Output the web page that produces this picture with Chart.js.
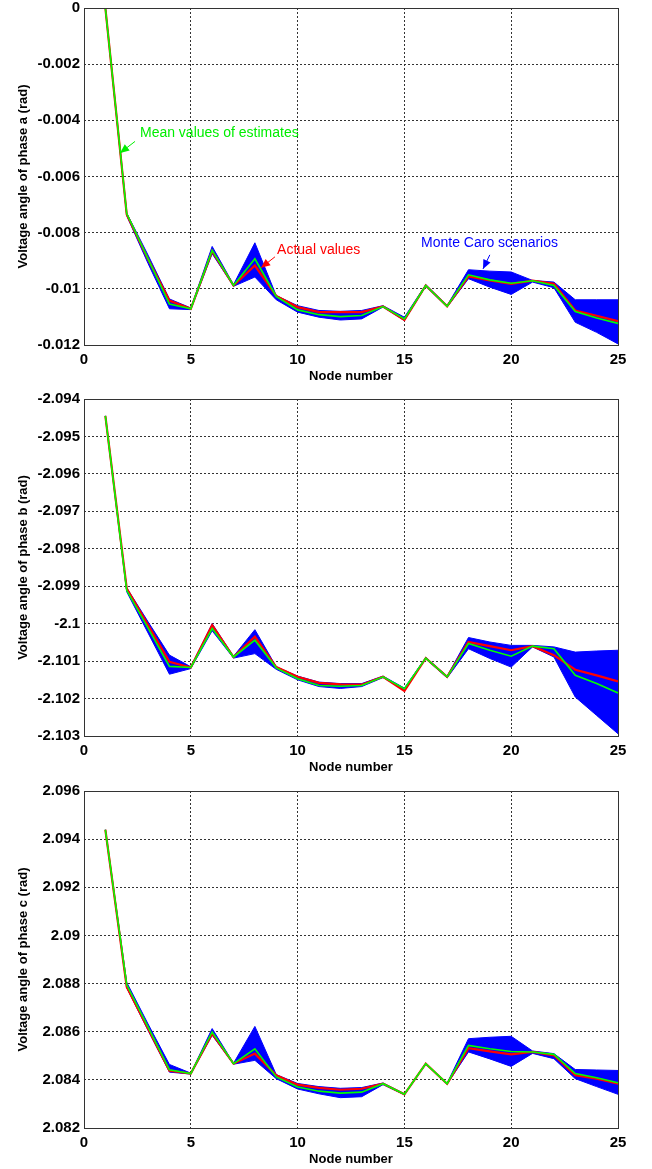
<!DOCTYPE html>
<html>
<head>
<meta charset="utf-8">
<script src="https://cdn.jsdelivr.net/npm/chart.js@4/dist/chart.umd.min.js"></script>
<style>
    body { margin: 0; background: #fff; }
    .panel { position: absolute; left: 0; width: 652px; height: 391px; }
</style>
</head>
<body>
<div class="panel" style="top:0px"><canvas id="chart-a" width="652" height="391"></canvas></div>
<div class="panel" style="top:391px"><canvas id="chart-b" width="652" height="391"></canvas></div>
<div class="panel" style="top:783px"><canvas id="chart-c" width="652" height="386"></canvas></div>
<script>
// =============================
// DATA
// =============================
const nodes = [1, 2, 3, 4, 5, 6, 7, 8, 9, 10, 11, 12, 13, 14, 15, 16, 17, 18, 19, 20, 21, 22, 23, 24, 25];
const xTicks = [0, 5, 10, 15, 20, 25];

// phase a
const meanA = [0, -0.00732, -0.00893, -0.01054, -0.01071, -0.00863, -0.00988, -0.00893, -0.01027, -0.01075,
    -0.01092, -0.01099, -0.01095, -0.01063, -0.01107, -0.00988, -0.01062, -0.00950, -0.00968, -0.00980,
    -0.00971, -0.00988, -0.01081, -0.01104, -0.01123];
const actualA = [0, -0.00735, -0.00895, -0.01042, -0.01071, -0.00866, -0.00988, -0.00917, -0.01025, -0.01065,
    -0.01083, -0.01083, -0.01083, -0.01063, -0.01111, -0.00988, -0.01062, -0.00956, -0.00970, -0.00982,
    -0.00971, -0.00982, -0.01077, -0.01096, -0.01115];
const mcUpperA = [0, -0.00730, -0.00880, -0.01036, -0.01068, -0.00849, -0.00985, -0.00836, -0.01024, -0.01060,
    -0.01077, -0.01080, -0.01077, -0.01060, -0.01101, -0.00985, -0.01059, -0.00932, -0.00937, -0.00940,
    -0.00970, -0.00976, -0.01039, -0.01039, -0.01039];
const mcLowerA = [0, -0.00740, -0.00910, -0.01071, -0.01074, -0.00875, -0.00991, -0.00958, -0.01039, -0.01083,
    -0.01101, -0.01111, -0.01107, -0.01065, -0.01113, -0.00991, -0.01065, -0.00964, -0.00994, -0.01020,
    -0.00976, -0.00996, -0.01119, -0.01155, -0.01196];
const yTicksA = [-0.012, -0.01, -0.008, -0.006, -0.004, -0.002, 0];
const yLabelsA = ['-0.012', '-0.01', '-0.008', '-0.006', '-0.004', '-0.002', '0'];

// phase b
const meanB = [-2.09445, -2.09911, -2.10012, -2.10114, -2.10117, -2.10013, -2.10089, -2.10044, -2.10118, -2.10147,
    -2.10165, -2.10167, -2.10165, -2.10142, -2.10174, -2.10092, -2.10142, -2.10053, -2.10071, -2.10087,
    -2.10060, -2.10067, -2.10138, -2.10160, -2.10185];
const actualB = [-2.09445, -2.09906, -2.10004, -2.10102, -2.10117, -2.10004, -2.10089, -2.10035, -2.10116, -2.10142,
    -2.10158, -2.10162, -2.10163, -2.10142, -2.10180, -2.10092, -2.10142, -2.10049, -2.10060, -2.10071,
    -2.10060, -2.10084, -2.10123, -2.10138, -2.10154];
const mcUpperB = [-2.09445, -2.09904, -2.09995, -2.10084, -2.10115, -2.10000, -2.10087, -2.10016, -2.10115, -2.10140,
    -2.10156, -2.10160, -2.10160, -2.10140, -2.10172, -2.10090, -2.10140, -2.10037, -2.10049, -2.10058,
    -2.10058, -2.10062, -2.10076, -2.10073, -2.10071];
const mcLowerB = [-2.09445, -2.09915, -2.10025, -2.10135, -2.10120, -2.10019, -2.10092, -2.10080, -2.10122, -2.10150,
    -2.10168, -2.10173, -2.10168, -2.10144, -2.10178, -2.10094, -2.10145, -2.10067, -2.10093, -2.10116,
    -2.10062, -2.10089, -2.10196, -2.10245, -2.10294];
const yTicksB = [-2.103, -2.102, -2.101, -2.1, -2.099, -2.098, -2.097, -2.096, -2.095, -2.094];
const yLabelsB = ['-2.103', '-2.102', '-2.101', '-2.1', '-2.099', '-2.098', '-2.097', '-2.096', '-2.095', '-2.094'];

// phase c
const meanC = [2.09439, 2.08795, 2.08619, 2.08442, 2.08426, 2.08599, 2.08467, 2.08529, 2.08412, 2.08370,
    2.08353, 2.08345, 2.08349, 2.08384, 2.08340, 2.08467, 2.08384, 2.08543, 2.08529, 2.08518,
    2.08516, 2.08506, 2.08426, 2.08409, 2.08388];
const actualC = [2.09439, 2.08786, 2.08612, 2.08438, 2.08426, 2.08592, 2.08467, 2.08509, 2.08419, 2.08380,
    2.08367, 2.08359, 2.08363, 2.08384, 2.08340, 2.08467, 2.08384, 2.08532, 2.08518, 2.08506,
    2.08516, 2.08502, 2.08419, 2.08405, 2.08384];
const mcUpperC = [2.09439, 2.08805, 2.08632, 2.08464, 2.08428, 2.08613, 2.08469, 2.08622, 2.08422, 2.08385,
    2.08372, 2.08365, 2.08368, 2.08387, 2.08342, 2.08469, 2.08386, 2.08571, 2.08577, 2.08581,
    2.08520, 2.08509, 2.08443, 2.08441, 2.08439];
const mcLowerC = [2.09439, 2.08782, 2.08605, 2.08432, 2.08424, 2.08585, 2.08465, 2.08481, 2.08405, 2.08362,
    2.08342, 2.08326, 2.08330, 2.08380, 2.08338, 2.08465, 2.08382, 2.08516, 2.08487, 2.08456,
    2.08510, 2.08488, 2.08405, 2.08372, 2.08340];
const yTicksC = [2.082, 2.084, 2.086, 2.088, 2.09, 2.092, 2.094, 2.096];
const yLabelsC = ['2.082', '2.084', '2.086', '2.088', '2.09', '2.092', '2.094', '2.096'];

// text notes on the first panel (data coordinates)
const notesA = [
    { text: 'Mean values of estimates', color: '#00ee00', x: 2.62, y: -0.00446, from: [2.39, -0.00475], to: [1.69, -0.00516] },
    { text: 'Actual values', color: '#ff0000', x: 9.04, y: -0.00864, from: [8.94, -0.00886], to: [8.29, -0.00925] },
    { text: 'Monte Caro scenarios', color: '#0000ff', x: 15.78, y: -0.00836, from: [19.0, -0.00879], to: [18.68, -0.00929] }
];

// =============================
// STYLE
// =============================
const FONT = "'Liberation Sans', Arial, sans-serif";
const PLOT_TOP = 8;
const PLOT_LEFT = 84;
const PLOT_RIGHT = 618;
const PLOT_HEIGHT = 337;
const X_AXIS_H = 46;

const framePlugin = {
    id: 'frame',
    afterDraw(chart) {
        const { ctx, chartArea: a } = chart;
        ctx.save();
        ctx.strokeStyle = '#333';
        ctx.lineWidth = 1;
        ctx.strokeRect(Math.round(a.left) + 0.5, Math.round(a.top) + 0.5, Math.round(a.width), Math.round(a.height));
        ctx.restore();
    }
};

const notesPlugin = {
    id: 'notes',
    afterDatasetsDraw(chart, args, opts) {
        const notes = opts.items || [];
        const { ctx } = chart;
        const xs = chart.scales.x, ys = chart.scales.y;
        ctx.save();
        notes.forEach(n => {
            ctx.fillStyle = n.color;
            ctx.strokeStyle = n.color;
            ctx.font = `14px ${FONT}`;
            ctx.textBaseline = 'middle';
            ctx.textAlign = 'left';
            ctx.fillText(n.text, xs.getPixelForValue(n.x), ys.getPixelForValue(n.y));

            const x1 = xs.getPixelForValue(n.from[0]), y1 = ys.getPixelForValue(n.from[1]);
            const x2 = xs.getPixelForValue(n.to[0]), y2 = ys.getPixelForValue(n.to[1]);
            const ang = Math.atan2(y2 - y1, x2 - x1);
            ctx.lineWidth = 1;
            ctx.beginPath();
            ctx.moveTo(x1, y1);
            ctx.lineTo(x2, y2);
            ctx.stroke();
            const len = 9, w = 4;
            ctx.beginPath();
            ctx.moveTo(x2, y2);
            ctx.lineTo(x2 - len * Math.cos(ang) + w * Math.sin(ang), y2 - len * Math.sin(ang) - w * Math.cos(ang));
            ctx.lineTo(x2 - len * Math.cos(ang) - w * Math.sin(ang), y2 - len * Math.sin(ang) + w * Math.cos(ang));
            ctx.closePath();
            ctx.fill();
        });
        ctx.restore();
    }
};

function points(ys) {
    return nodes.map((n, i) => ({ x: n, y: ys[i] }));
}

function renderPanel(canvasId, series, yTicks, yLabels, yTitle, notes) {
    const ctx = document.getElementById(canvasId).getContext('2d');
    const canvasH = ctx.canvas.height;
    const bottomPad = canvasH - PLOT_TOP - PLOT_HEIGHT - X_AXIS_H;

    return new Chart(ctx, {
        type: 'line',
        data: {
            datasets: [
                {
                    label: 'Mean values of estimates',
                    data: points(series.mean),
                    borderColor: '#00ff00',
                    borderWidth: 1.6,
                    pointRadius: 0,
                    tension: 0,
                    fill: false
                },
                {
                    label: 'Actual values',
                    data: points(series.actual),
                    borderColor: '#ff0000',
                    borderWidth: 2.2,
                    pointRadius: 0,
                    tension: 0,
                    fill: false
                },
                {
                    label: 'Monte Carlo upper',
                    data: points(series.upper),
                    borderColor: '#0000ff',
                    borderWidth: 1,
                    pointRadius: 0,
                    tension: 0,
                    fill: false
                },
                {
                    label: 'Monte Carlo lower',
                    data: points(series.lower),
                    borderColor: '#0000ff',
                    backgroundColor: '#0000ff',
                    borderWidth: 1,
                    pointRadius: 0,
                    tension: 0,
                    fill: '-1'
                }
            ]
        },
        options: {
            responsive: false,
            animation: false,
            devicePixelRatio: 1,
            layout: { padding: { top: PLOT_TOP, right: 652 - PLOT_RIGHT, left: 0, bottom: bottomPad } },
            scales: {
                x: {
                    type: 'linear',
                    min: 0,
                    max: 25,
                    afterBuildTicks: axis => { axis.ticks = xTicks.map(v => ({ value: v })); },
                    afterFit: axis => {
                        axis.height = X_AXIS_H;
                        axis.paddingLeft = 0;
                        axis.paddingRight = 0;
                    },
                    grid: { color: '#333', lineWidth: 1, drawTicks: false },
                    border: { display: false, dash: [2, 2] },
                    ticks: { color: '#000', padding: 6, maxRotation: 0, font: { family: FONT, size: 15, weight: 'bold' } },
                    title: {
                        display: true,
                        text: 'Node number',
                        color: '#000',
                        padding: { top: 0, bottom: 7 },
                        font: { family: FONT, size: 13, weight: 'bold' }
                    }
                },
                y: {
                    type: 'linear',
                    min: yTicks[0],
                    max: yTicks[yTicks.length - 1],
                    afterBuildTicks: axis => { axis.ticks = yTicks.map(v => ({ value: v })); },
                    afterFit: axis => {
                        axis.width = PLOT_LEFT;
                        axis.paddingTop = 0;
                        axis.paddingBottom = 0;
                    },
                    grid: { color: '#333', lineWidth: 1, drawTicks: false },
                    border: { display: false, dash: [2, 2] },
                    ticks: {
                        color: '#000',
                        padding: 4,
                        font: { family: FONT, size: 15, weight: 'bold' },
                        callback: (v, i) => yLabels[i]
                    },
                    title: {
                        display: true,
                        text: yTitle,
                        color: '#000',
                        padding: { top: 16, bottom: 0 },
                        font: { family: FONT, size: 13, weight: 'bold' }
                    }
                }
            },
            plugins: {
                legend: { display: false },
                tooltip: { enabled: false },
                notes: { items: notes }
            }
        },
        plugins: [framePlugin, notesPlugin]
    });
}

renderPanel('chart-a', { mean: meanA, actual: actualA, upper: mcUpperA, lower: mcLowerA },
    yTicksA, yLabelsA, 'Voltage angle of phase a (rad)', notesA);
renderPanel('chart-b', { mean: meanB, actual: actualB, upper: mcUpperB, lower: mcLowerB },
    yTicksB, yLabelsB, 'Voltage angle of phase b (rad)', []);
renderPanel('chart-c', { mean: meanC, actual: actualC, upper: mcUpperC, lower: mcLowerC },
    yTicksC, yLabelsC, 'Voltage angle of phase c (rad)', []);
</script>
</body>
</html>
